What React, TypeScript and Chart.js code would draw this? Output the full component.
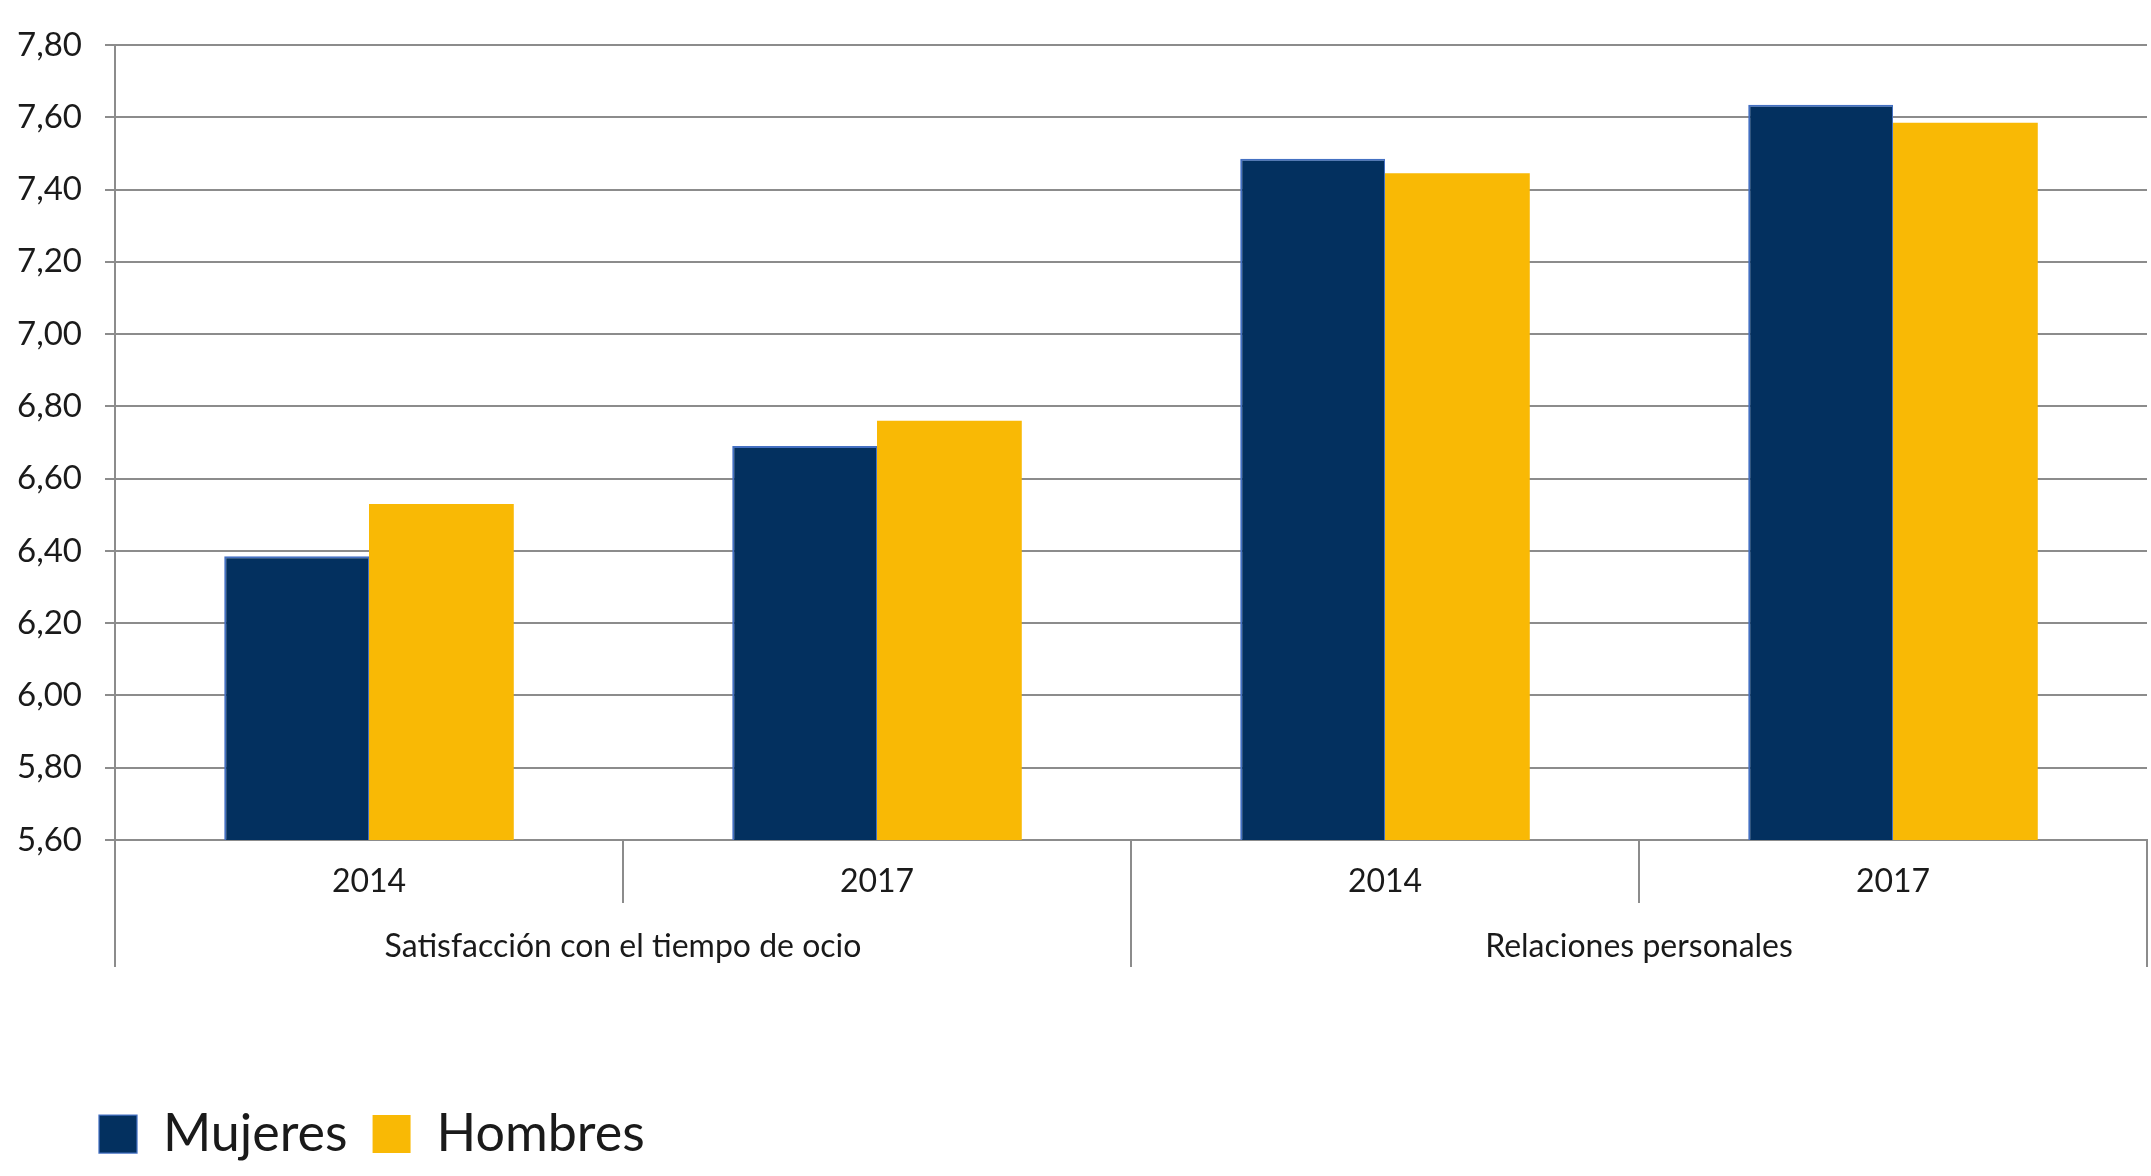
import React, { useEffect, useRef } from "react";
import { Chart, registerables } from "chart.js";

Chart.register(...registerables);

// ---- Data ----
const categories = ["2014", "2017", "2014", "2017"];
const groups = ["Satisfacción con el tiempo de ocio", "Relaciones personales"];
const groupSizes = [2, 2];
const seriesNames = ["Mujeres", "Hombres"];
const mujeres = [6.385, 6.69, 7.485, 7.635];
const hombres = [6.53, 6.76, 7.445, 7.585];
const yMin = 5.6;
const yMax = 7.8;
const yStep = 0.2;

// ---- Styles ----
const FONT = "Lato";
const GRID = "#8c8c8c";
const TEXT = "#1a1a1a";
const NAVY = "#03305f";
const NAVY_BORDER = "#4470c2";
const YELLOW = "#f9b905";
const LEGEND_SHIFT = 74;

const groupAxisPlugin = {
  id: "groupAxis",
  afterLayout(chart: any) {
    const l = chart.legend;
    if (l) {
      l.left += LEGEND_SHIFT;
      l.right += LEGEND_SHIFT;
    }
  },
  afterDraw(chart: any) {
    const x = chart.scales.x;
    const area = chart.chartArea;
    const ctx = chart.ctx;
    const n = categories.length;
    const boundary = (i: number) =>
      i === 0
        ? x.left
        : i === n
        ? x.right
        : (x.getPixelForValue(i - 1) + x.getPixelForValue(i)) / 2;
    const outer = new Set<number>([0]);
    let acc = 0;
    groupSizes.forEach((s) => {
      acc += s;
      outer.add(acc);
    });
    ctx.save();
    ctx.strokeStyle = GRID;
    ctx.lineWidth = 2;
    for (let i = 0; i <= n; i++) {
      const px = Math.round(boundary(i));
      const len = outer.has(i) ? 127 : 63;
      ctx.beginPath();
      ctx.moveTo(px, area.bottom);
      ctx.lineTo(px, area.bottom + len);
      ctx.stroke();
    }
    ctx.fillStyle = TEXT;
    ctx.font = `32px ${FONT}`;
    ctx.textAlign = "center";
    ctx.textBaseline = "middle";
    let start = 0;
    groups.forEach((g, gi) => {
      const end = start + groupSizes[gi];
      const cx = (boundary(start) + boundary(end)) / 2;
      ctx.fillText(g, cx, area.bottom + 107);
      start = end;
    });
    ctx.restore();
  },
};

export default function App() {
  const ref = useRef<HTMLCanvasElement | null>(null);

  useEffect(() => {
    if (!ref.current) return;
    const chart = new Chart(ref.current, {
      type: "bar",
      data: {
        labels: categories,
        datasets: [
          {
            label: seriesNames[0],
            data: mujeres,
            backgroundColor: NAVY,
            borderColor: NAVY_BORDER,
            borderWidth: { top: 2, left: 2, right: 1, bottom: 0 },
            categoryPercentage: 0.57,
            barPercentage: 1.0,
          },
          {
            label: seriesNames[1],
            data: hombres,
            backgroundColor: YELLOW,
            borderWidth: 0,
            categoryPercentage: 0.57,
            barPercentage: 1.0,
          },
        ],
      },
      options: {
        animation: false,
        responsive: true,
        maintainAspectRatio: false,
        layout: { padding: { left: 0, right: 4, top: 45, bottom: 6 } },
        plugins: {
          tooltip: { enabled: false },
          legend: {
            position: "bottom",
            align: "start",
            labels: {
              boxWidth: 38,
              boxHeight: 38,
              padding: 25,
              color: TEXT,
              font: { family: FONT, size: 52 },
            },
          },
        },
        scales: {
          x: {
            grid: { display: false, drawTicks: false },
            border: { display: true, color: GRID, width: 2 },
            ticks: {
              color: TEXT,
              font: { family: FONT, size: 32 },
              padding: 22,
              maxRotation: 0,
            },
            afterFit: (s: any) => {
              s.height = 243;
            },
          },
          y: {
            min: yMin,
            max: yMax,
            grid: { color: GRID, lineWidth: 2, tickLength: 10 },
            border: { display: true, color: GRID, width: 2 },
            ticks: {
              stepSize: yStep,
              color: TEXT,
              padding: 23,
              font: { family: FONT, size: 33 },
              callback: (v: any) => Number(v).toFixed(2).replace(".", ","),
            },
            afterFit: (s: any) => {
              s.width = 115;
            },
          },
        },
      },
      plugins: [groupAxisPlugin],
    });
    return () => chart.destroy();
  }, []);

  return (
    <div style={{ position: "fixed", left: 0, top: 0, width: 2151, height: 1176, background: "#fff" }}>
      <canvas ref={ref} />
    </div>
  );
}
